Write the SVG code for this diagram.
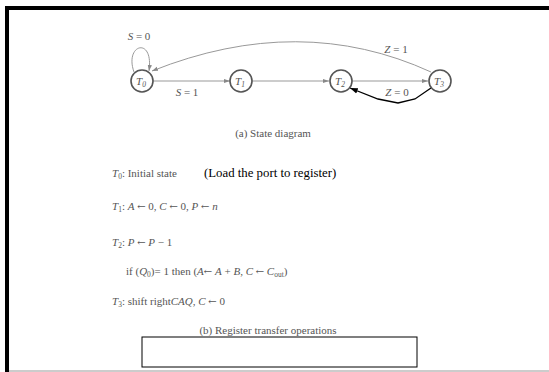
<svg xmlns="http://www.w3.org/2000/svg" width="549" height="372" viewBox="0 0 549 372">
<style>
.st{fill:#fff;stroke:#555;stroke-width:1.6}
.lb{font-family:"Liberation Serif",serif;font-size:11px;fill:#555}
.it{font-style:italic}
.tx{font-family:"Liberation Serif",serif;font-size:11px;fill:#555}
.ar{font-family:"DejaVu Serif",serif;font-size:10px}
.sb{font-size:7.5px}
.bk{font-family:"Liberation Serif",serif;font-size:12.8px;fill:#000}
.ed{fill:none;stroke:#999;stroke-width:1}
</style>
<defs>
<marker id="ah" viewBox="0 0 10 10" refX="10" refY="5" markerWidth="6" markerHeight="6" orient="auto"><path d="M0,1.5 L10,5 L0,8.5 z" fill="#888"/></marker>
<marker id="ab" viewBox="0 0 10 10" refX="10" refY="5" markerWidth="6" markerHeight="6" orient="auto"><path d="M0,1.5 L10,5 L0,8.5 z" fill="#000"/></marker>
</defs>
<rect x="0" y="0" width="549" height="372" fill="#fff"/>
<rect x="5" y="6" width="544" height="4" fill="#000"/>
<rect x="5" y="6" width="4" height="366" fill="#000"/>
<line x1="9" y1="371" x2="549" y2="371" stroke="#999" stroke-width="1"/>
<g id="connectors">
<path class="ed" d="M134,72 C124,44 154,36 149,71" marker-end="url(#ah)"/>
<line class="ed" x1="153" y1="81" x2="230" y2="81" marker-end="url(#ah)"/>
<line class="ed" x1="252" y1="81" x2="329" y2="81" marker-end="url(#ah)"/>
<line class="ed" x1="352" y1="81" x2="428" y2="81" marker-end="url(#ah)"/>
<path class="ed" d="M431,72 Q300,12 152,71" marker-end="url(#ah)"/>
<polyline points="431,88 415,99 398,103 378,99 350,88" fill="none" stroke="#000" stroke-width="1.3" marker-end="url(#ab)"/>
<text class="lb" x="139" y="40" text-anchor="middle"><tspan class="it">S</tspan> = 0</text>
<text class="lb" x="187" y="96" text-anchor="middle"><tspan class="it">S</tspan> = 1</text>
<text class="lb" x="396" y="53" text-anchor="middle"><tspan class="it">Z</tspan> = 1</text>
<text class="lb" x="397" y="96" text-anchor="middle"><tspan class="it">Z</tspan> = 0</text>
</g>
<g id="T0"><circle class="st" cx="142" cy="81" r="11"/><text class="lb it" x="141" y="85" text-anchor="middle">T<tspan class="sb" dy="2">0</tspan></text></g>
<g id="T1"><circle class="st" cx="241" cy="81" r="11"/><text class="lb it" x="240" y="85" text-anchor="middle">T<tspan class="sb" dy="2">1</tspan></text></g>
<g id="T2"><circle class="st" cx="341" cy="81" r="11"/><text class="lb it" x="340" y="85" text-anchor="middle">T<tspan class="sb" dy="2">2</tspan></text></g>
<g id="T3"><circle class="st" cx="440" cy="81" r="11"/><text class="lb it" x="439" y="85" text-anchor="middle">T<tspan class="sb" dy="2">3</tspan></text></g>
<text class="tx" x="273" y="137" text-anchor="middle" font-size="11.5">(a) State diagram</text>
<text class="tx" x="112" y="177" font-size="10.5"><tspan class="it">T</tspan><tspan class="sb" dy="2">0</tspan><tspan dy="-2">: Initial state</tspan></text>
<text class="bk" x="204" y="177">(Load the port to register)</text>
<text class="tx" x="112" y="210"><tspan class="it">T</tspan><tspan class="sb" dy="2">1</tspan><tspan dy="-2">: </tspan><tspan class="it">A</tspan> <tspan class="ar">←</tspan> 0, <tspan class="it">C</tspan> <tspan class="ar">←</tspan> 0, <tspan class="it">P</tspan> <tspan class="ar">←</tspan> <tspan class="it">n</tspan></text>
<text class="tx" x="112" y="246"><tspan class="it">T</tspan><tspan class="sb" dy="2">2</tspan><tspan dy="-2">: </tspan><tspan class="it">P</tspan> <tspan class="ar">←</tspan> <tspan class="it">P</tspan> − 1</text>
<text class="tx" x="126" y="275">if (<tspan class="it">Q</tspan><tspan class="sb" dy="2">0</tspan><tspan dy="-2">)= 1 then (</tspan><tspan class="it">A</tspan><tspan class="ar">←</tspan> <tspan class="it">A</tspan> + <tspan class="it">B</tspan>, <tspan class="it">C</tspan> <tspan class="ar">←</tspan> <tspan class="it">C</tspan><tspan class="sb" dy="2">out</tspan><tspan dy="-2">)</tspan></text>
<text class="tx" x="112" y="305"><tspan class="it">T</tspan><tspan class="sb" dy="2">3</tspan><tspan dy="-2">: shift right</tspan><tspan class="it">CAQ</tspan>, <tspan class="it">C</tspan> <tspan class="ar">←</tspan> 0</text>
<text class="tx" x="268" y="334" text-anchor="middle" font-size="12">(b) Register transfer operations</text>
<rect x="142" y="337" width="275" height="30" fill="none" stroke="#000" stroke-width="1"/>
</svg>
